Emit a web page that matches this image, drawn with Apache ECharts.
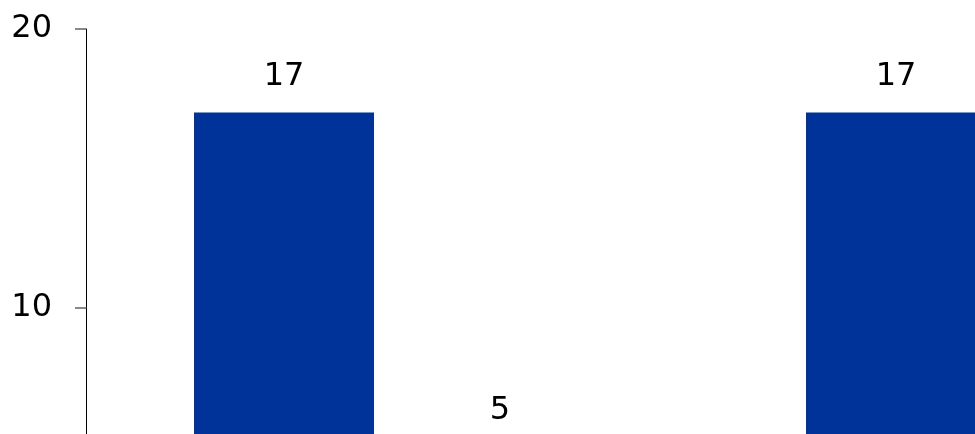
<!DOCTYPE html>
<html>
<head>
<meta charset="utf-8">
<style>
  html, body { margin: 0; padding: 0; background: #fff; overflow: hidden; }
  #chart { width: 1310px; height: 586px; }
</style>
<script src="https://cdn.jsdelivr.net/npm/echarts@6/dist/echarts.min.js"></script>
</head>
<body>
<div id="chart"></div>
<script>
// Categories and values
var categories = ['A', 'B'];
var seriesOne = [17, 17];
var seriesTwo = [5, 5];
var yTicks = [0, 10, 20];

var chart = echarts.init(document.getElementById('chart'), null, { renderer: 'canvas' });

var labelStyle = {
  show: true,
  position: 'top',
  distance: 20,
  fontFamily: 'DejaVu Sans',
  fontSize: 32,
  color: '#000'
};

chart.setOption({
  animation: false,
  grid: { left: 86, right: 0, top: 29, bottom: 0, containLabel: false, outerBoundsMode: 'none' },
  xAxis: {
    type: 'category',
    data: categories,
    axisLine: { show: false },
    axisTick: { show: false },
    axisLabel: { show: false }
  },
  yAxis: {
    type: 'value',
    min: yTicks[0],
    max: yTicks[yTicks.length - 1],
    interval: yTicks[1] - yTicks[0],
    axisLine: { show: true, lineStyle: { color: '#000', width: 1 } },
    axisTick: { show: true, length: 11, lineStyle: { color: '#888', width: 2 } },
    axisLabel: { margin: 34, fontFamily: 'DejaVu Sans', fontSize: 32, color: '#000' },
    splitLine: { show: false }
  },
  series: [
    {
      type: 'bar',
      data: seriesOne,
      barWidth: 180,
      barGap: '20%',
      itemStyle: { color: '#003399' },
      label: labelStyle
    },
    {
      type: 'bar',
      data: seriesTwo,
      barWidth: 180,
      itemStyle: { color: '#6699cc' },
      label: labelStyle
    }
  ]
});
</script>
</body>
</html>
